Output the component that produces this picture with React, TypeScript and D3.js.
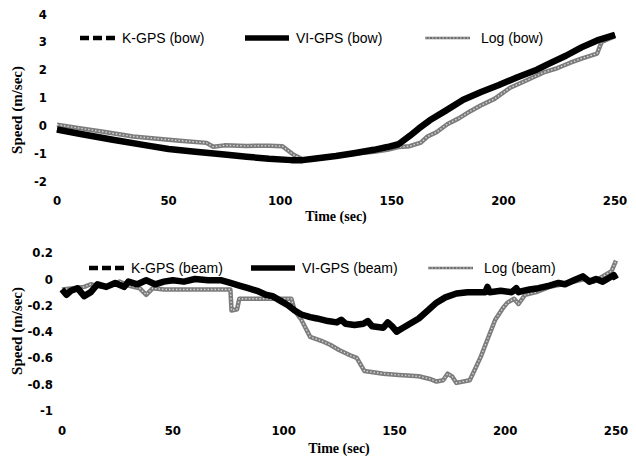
import React from "react";
import * as d3 from "d3";

// ---------- data ----------
const xTicks = [0, 50, 100, 150, 200, 250];
const bowYTicks = [-2, -1, 0, 1, 2, 3, 4];
const beamYTicks = [-1, -0.8, -0.6, -0.4, -0.2, 0, 0.2];

const bowLegend = ["K-GPS (bow)", "VI-GPS (bow)", "Log (bow)"];
const beamLegend = ["K-GPS (beam)", "VI-GPS (beam)", "Log (beam)"];

// [time (sec), speed (m/sec)]
const viGpsBow: [number, number][] = [
  [0, -0.15], [10, -0.3], [25, -0.52], [40, -0.72], [50, -0.85], [62, -0.95], [75, -1.05],
  [85, -1.13], [95, -1.2], [105, -1.25], [110, -1.25], [115, -1.2], [125, -1.1], [133, -1.0],
  [142, -0.88], [148, -0.78], [153, -0.68], [158, -0.38], [162, -0.12], [167, 0.18], [174, 0.52],
  [182, 0.92], [190, 1.2], [198, 1.45], [206, 1.72], [215, 2.0], [220, 2.2], [228, 2.5],
  [235, 2.8], [242, 3.05], [250, 3.25],
];
const kGpsBow: [number, number][] = viGpsBow.map(([t, v]) => [t, v]);
const logBow: [number, number][] = [
  [0, 0.02], [10, -0.1], [20, -0.22], [30, -0.35], [34, -0.4], [45, -0.48], [55, -0.55],
  [67, -0.63], [70, -0.77], [75, -0.72], [85, -0.74], [95, -0.73], [101, -0.75], [106, -1.06],
  [110, -1.22], [115, -1.2], [125, -1.1], [135, -1.0], [142, -0.95], [148, -0.88], [153, -0.78],
  [158, -0.75], [163, -0.62], [166, -0.4], [170, -0.25], [175, 0.05], [180, 0.25], [185, 0.5],
  [190, 0.72], [196, 0.95], [203, 1.35], [210, 1.6], [218, 1.9], [224, 2.05], [230, 2.25],
  [235, 2.4], [242, 2.58], [244, 3.0], [250, 3.2],
];

const viGpsBeam: [number, number][] = [
  [0, -0.08], [2, -0.12], [4, -0.09], [7, -0.07], [10, -0.13], [13, -0.1], [16, -0.04], [20, -0.06],
  [24, -0.03], [28, -0.06], [30, -0.02], [34, -0.04], [38, -0.01], [42, -0.04], [46, -0.02],
  [50, -0.01], [55, -0.02], [60, 0.0], [66, -0.01], [72, -0.01], [76, -0.03], [80, -0.05],
  [84, -0.07], [88, -0.09], [92, -0.12], [95, -0.13], [99, -0.17], [102, -0.2], [105, -0.24],
  [108, -0.27], [112, -0.29], [115, -0.3], [120, -0.32], [124, -0.33], [126, -0.31], [128, -0.34],
  [132, -0.35], [136, -0.34], [138, -0.32], [140, -0.36], [145, -0.37], [147, -0.33], [149, -0.36],
  [151, -0.4], [153, -0.38], [157, -0.34], [161, -0.3], [165, -0.24], [169, -0.18], [173, -0.14],
  [178, -0.11], [183, -0.1], [188, -0.1], [191, -0.1], [192, -0.06], [193, -0.1], [198, -0.09],
  [203, -0.1], [205, -0.07], [206, -0.1], [208, -0.09], [211, -0.08], [215, -0.07], [220, -0.05],
  [224, -0.03], [227, -0.04], [231, -0.01], [235, 0.02], [238, -0.02], [241, 0.0], [244, -0.02],
  [247, 0.01], [249, 0.03], [250, 0.0],
];
const kGpsBeam: [number, number][] = viGpsBeam.map(([t, v]) => [t, v]);
const logBeam: [number, number][] = [
  [0, -0.08], [5, -0.07], [10, -0.06], [13, -0.04], [18, -0.06], [22, -0.05], [26, -0.02],
  [30, -0.05], [35, -0.07], [38, -0.12], [41, -0.07], [46, -0.08], [60, -0.08], [76, -0.08],
  [76.5, -0.24], [79, -0.23], [80, -0.15], [95, -0.15], [103.5, -0.15], [105, -0.24],
  [108, -0.31], [112, -0.44], [117, -0.47], [121, -0.5], [125, -0.54], [130, -0.58],
  [133, -0.6], [136.5, -0.7], [145, -0.72], [152, -0.73], [161, -0.74], [166, -0.76],
  [169, -0.78], [172, -0.77], [174, -0.72], [176, -0.74], [178, -0.79], [184, -0.77],
  [186, -0.7], [189, -0.59], [192, -0.46], [195.5, -0.31], [199, -0.22], [201, -0.18],
  [204, -0.15], [206, -0.19], [209, -0.12], [214, -0.1], [220, -0.06], [226, -0.04],
  [231, -0.02], [236, 0.0], [240, -0.02], [244, 0.02], [248, 0.06], [250, 0.14],
];

// ---------- styles ----------
const tickFont = "'Liberation Sans Narrow', 'DejaVu Sans Condensed', Arial, sans-serif";
const legendFont = "'Liberation Sans', Arial, sans-serif";
const titleFont = "'Liberation Serif', 'Times New Roman', serif";

type Panel = {
  x0: number; x1: number; yTop: number; yBot: number;
  yDomain: [number, number]; yTicks: number[]; yLabelRight: number;
  xLabelY: number; xTitleY: number; yTitleY: number; legendY: number;
  legend: string[]; k: [number, number][]; vi: [number, number][]; log: [number, number][];
  legendX: number[];
};

const panels: Panel[] = [
  {
    x0: 57, x1: 615, yTop: 14, yBot: 181, yDomain: [-2, 4], yTicks: bowYTicks, yLabelRight: 47,
    xLabelY: 205, xTitleY: 221, yTitleY: 110, legendY: 38, legend: bowLegend,
    k: kGpsBow, vi: viGpsBow, log: logBow, legendX: [80, 245, 425],
  },
  {
    x0: 62, x1: 616, yTop: 252.7, yBot: 410.5, yDomain: [-1, 0.2], yTicks: beamYTicks, yLabelRight: 53,
    xLabelY: 435, xTitleY: 453, yTitleY: 331, legendY: 268, legend: beamLegend,
    k: kGpsBeam, vi: viGpsBeam, log: logBeam, legendX: [89, 251, 428],
  },
];

function fmt(v: number) {
  const r = Math.round(v * 10) / 10;
  return r === 0 ? "0" : String(r);
}

function PanelView({ p }: { p: Panel }) {
  const x = d3.scaleLinear().domain([0, 250]).range([p.x0, p.x1]);
  const y = d3.scaleLinear().domain(p.yDomain).range([p.yBot, p.yTop]);
  const line = d3.line<[number, number]>().x((d) => x(d[0])).y((d) => y(d[1]));
  const legendLen = [37, 44, 45];
  return (
    <g>
      {p.yTicks.map((t) => (
        <text key={"y" + t} x={p.yLabelRight} y={y(t)} dy="0.35em" textAnchor="end"
          fontFamily={tickFont} fontWeight="bold" fontSize={13} fill="#000">{fmt(t)}</text>
      ))}
      {xTicks.map((t) => (
        <text key={"x" + t} x={x(t)} y={p.xLabelY} textAnchor="middle"
          fontFamily={tickFont} fontWeight="bold" fontSize={13} fill="#000">{t}</text>
      ))}
      <text x={(p.x0 + p.x1) / 2} y={p.xTitleY} textAnchor="middle" fontFamily={titleFont}
        fontWeight="bold" fontSize={14}>Time (sec)</text>
      <text transform={`translate(22,${p.yTitleY}) rotate(-90)`} textAnchor="middle"
        fontFamily={titleFont} fontWeight="bold" fontSize={15}>Speed (m/sec)</text>

      <path d={line(p.log) || ""} fill="none" stroke="#7c7c7c" strokeWidth={4.5} strokeLinejoin="round" />
      <path d={line(p.log) || ""} fill="none" stroke="#d4d4d4" strokeWidth={1.4} strokeDasharray="1.5,2" />
      <path d={line(p.k) || ""} fill="none" stroke="#000" strokeWidth={4} strokeDasharray="8,3" />
      <path d={line(p.vi) || ""} fill="none" stroke="#000" strokeWidth={6.5} strokeLinejoin="round" />

      <line x1={p.legendX[0]} x2={p.legendX[0] + legendLen[0]} y1={p.legendY} y2={p.legendY}
        stroke="#000" strokeWidth={4.5} strokeDasharray="9,4" />
      <text x={p.legendX[0] + legendLen[0] + 5} y={p.legendY} dy="0.35em" fontFamily={legendFont}
        fontSize={14}>{p.legend[0]}</text>
      <line x1={p.legendX[1]} x2={p.legendX[1] + legendLen[1]} y1={p.legendY} y2={p.legendY}
        stroke="#000" strokeWidth={5.5} />
      <text x={p.legendX[1] + legendLen[1] + 7} y={p.legendY} dy="0.35em" fontFamily={legendFont}
        fontSize={14}>{p.legend[1]}</text>
      <line x1={p.legendX[2]} x2={p.legendX[2] + legendLen[2]} y1={p.legendY} y2={p.legendY}
        stroke="#6f6f6f" strokeWidth={2.5} />
      <line x1={p.legendX[2]} x2={p.legendX[2] + legendLen[2]} y1={p.legendY} y2={p.legendY}
        stroke="#cfcfcf" strokeWidth={1} strokeDasharray="1.5,2" />
      <text x={p.legendX[2] + legendLen[2] + 11} y={p.legendY} dy="0.35em" fontFamily={legendFont}
        fontSize={14}>{p.legend[2]}</text>
    </g>
  );
}

export default function App() {
  return (
    <svg width={636} height={459} style={{ position: "absolute", left: 0, top: 0, background: "#fff" }}>
      <rect width={636} height={459} fill="#fff" />
      {panels.map((p, i) => (
        <PanelView key={i} p={p} />
      ))}
    </svg>
  );
}
